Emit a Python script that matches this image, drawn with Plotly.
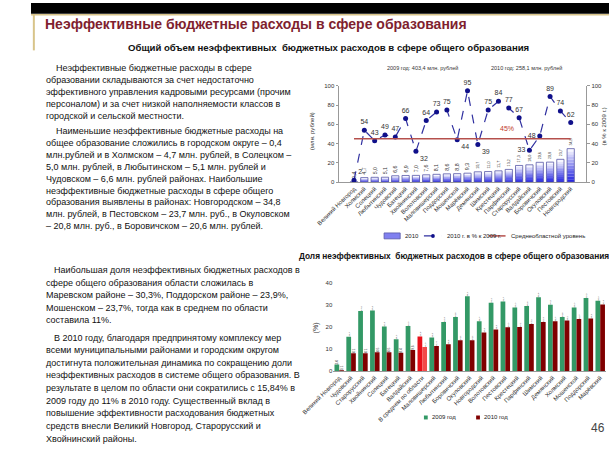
import plotly.graph_objects as go

W, H = 609, 457
def px(x): return x / W
def py(y): return 1 - y / H

FONT = "Liberation Sans, Arial, sans-serif"

# ---------------- data: top chart ----------------
top_cats = ["Великий Новгород", "Холмский", "Солецкий", "Любытинский", "Чудовский",
            "Батецкий", "Хвойнинский", "Волотовский", "Маловишерский", "Поддорский",
            "Мошенской", "Марёвский", "Демянский", "Шимский", "Крестецкий",
            "Парфинский", "Старорусский", "Валдайский", "Боровичский", "Окуловский",
            "Пестовский", "Новгородский"]
top_2010 = [0.4, 4.7, 5.0, 5.1, 6.6, 6.9, 7.0, 7.6, 8.1, 8.6, 8.8, 9.3, 10.7, 11.0,
            11.7, 13.2, 17.3, 18.0, 20.6, 20.8, 23.7, 34.8]
top_pct = [2, 54, 43, 49, 47, 66, 32, 64, 73, 75, 44, 95, 39, 75, 84, 77, 67, 33,
           48, 89, 74, 62]
avg_level = 45
top_ticks = [0, 20, 40, 60, 80, 100]

# ---------------- data: bottom chart ----------------
bot_cats = ["Великий Новгород", "Чудовский", "Старорусский", "Хвойнинский", "Солецкий",
            "Батецкий", "Валдайский", "В среднем по области", "Маловишерский",
            "Любытинский", "Боровичский", "Окуловский", "Новгородский", "Волотовский",
            "Пестовский", "Крестецкий", "Парфинский", "Шимский", "Демянский",
            "Холмский", "Мошенской", "Поддорский", "Марёвский"]
bot_2009 = [3.0, 15.7, 27.4, 27.6, 20.3, 14.5, 20.5, 15.8, 15.3, 22.4, 24.6, 34.1,
            22.7, 31.1, 31.7, 29.0, 29.6, 33.6, 30.2, 24.6, 29.0, 33.3, 32.0]
bot_2010 = [0.1, 8.1, 8.1, 8.6, 8.6, 8.4, 9.6, 11.0, 11.4, 12.2, 14.1, 14.1, 17.6,
            18.9, 20.0, 20.1, 21.5, 22.4, 22.7, 23.0, 23.7, 23.9, 30.3]
bot_ticks = [0, 10, 20, 30, 40]
avg_name = "В среднем по области"

def fmt(v):
    return f"{v:.1f}".replace(".", ",")

fig = go.Figure()

# ---- top chart: gradient bars (stacked slices of each value) ----
N = 12
c0 = (40, 40, 225)
c1 = (246, 246, 255)
for k in range(N):
    t = k / (N - 1)
    col = "rgb(%d,%d,%d)" % tuple(int(c0[i] + (c1[i] - c0[i]) * t) for i in range(3))
    fig.add_trace(go.Bar(
        x=top_cats, y=[v / N for v in top_2010], base=[v * k / N for v in top_2010],
        marker=dict(color=col, line=dict(width=0)), width=0.7,
        showlegend=False, hoverinfo="skip", xaxis="x", yaxis="y"))
fig.add_trace(go.Bar(
    x=top_cats, y=top_2010, width=0.7,
    marker=dict(color="rgba(0,0,0,0)", line=dict(color="#5A5AA8", width=0.8)),
    text=[fmt(v) for v in top_2010], textposition="outside", textangle=-90,
    textfont=dict(size=5.5, color="#333333", family=FONT), cliponaxis=False,
    showlegend=False, xaxis="x", yaxis="y"))

pos = ["top center"] * len(top_pct)
for i, p in {0: "top right", 6: "bottom right", 10: "bottom right", 12: "bottom right",
             17: "middle left", 18: "middle left"}.items():
    pos[i] = p
fig.add_trace(go.Scatter(
    x=top_cats, y=top_pct, mode="lines+markers+text", showlegend=False,
    line=dict(color="#3030A0", width=1.2, dash="dash"),
    marker=dict(color="#10108A", size=5),
    text=[str(v) for v in top_pct], textposition=pos,
    textfont=dict(size=7, color="#333333", family=FONT), cliponaxis=False,
    xaxis="x", yaxis="y2"))
fig.add_trace(go.Scatter(
    x=top_cats, y=[avg_level] * len(top_cats), mode="lines", showlegend=False,
    line=dict(color="#B5504C", width=1.5), xaxis="x", yaxis="y2"))

# ---- bottom chart ----
green = "#339966"
dred = "#800000"
c09 = ["#E8101A" if c == avg_name else green for c in bot_cats]
c10 = ["#F24A4A" if c == avg_name else dred for c in bot_cats]
fig.add_trace(go.Bar(
    x=bot_cats, y=bot_2009, width=0.4, offset=-0.4, showlegend=False,
    marker=dict(color=c09, line=dict(width=0)),
    text=[fmt(v) for v in bot_2009], textposition="outside", textangle=-90,
    textfont=dict(size=5, color="#333333", family=FONT), cliponaxis=False,
    xaxis="x3", yaxis="y3"))
fig.add_trace(go.Bar(
    x=bot_cats, y=bot_2010, width=0.4, offset=0.0, showlegend=False,
    marker=dict(color=c10, line=dict(width=0)),
    text=[fmt(v) for v in bot_2010], textposition="outside", textangle=-90,
    textfont=dict(size=5, color="#333333", family=FONT), cliponaxis=False,
    xaxis="x3", yaxis="y3"))

# ---------------- layout ----------------
tickf = dict(size=6, color="#333333", family=FONT)
fig.update_layout(
    width=W, height=H, margin=dict(l=0, r=0, t=0, b=0),
    paper_bgcolor="white", plot_bgcolor="white",
    font=dict(family=FONT, color="#111111"),
    barmode="overlay", showlegend=False,
    xaxis=dict(domain=[px(324), px(585)], anchor="y", type="category",
               tickangle=-45, tickfont=tickf, showline=True, linecolor="#999999",
               linewidth=1, ticks="", showgrid=False),
    yaxis=dict(domain=[py(181.5), py(84)], range=[0, 100], tickvals=top_ticks,
               tickfont=tickf, showline=True, linecolor="#999999", linewidth=1,
               ticks="outside", ticklen=2, tickcolor="#999999", showgrid=False,
               zeroline=False),
    yaxis2=dict(overlaying="y", side="right", anchor="x", range=[0, 100],
                tickvals=top_ticks, tickfont=tickf, showline=True,
                linecolor="#999999", linewidth=1, ticks="outside", ticklen=3,
                tickcolor="#999999", showgrid=False, zeroline=False),
    xaxis3=dict(domain=[px(318.5), px(606)], anchor="y3", type="category",
                tickangle=-45, tickfont=tickf, showline=True, linecolor="#999999",
                linewidth=1, ticks="", showgrid=False),
    yaxis3=dict(domain=[py(373), py(284)], anchor="x3", range=[0, 40],
                tickvals=bot_ticks, tickfont=tickf, showline=False, ticks="",
                showgrid=False, zeroline=False),
)

def prect(x0, y0, x1, y1, color, lc=None):
    return dict(type="rect", xref="paper", yref="paper", x0=px(x0), x1=px(x1),
                y0=py(y1), y1=py(y0), fillcolor=color,
                line=dict(width=0.8 if lc else 0, color=lc or color))

def pline(x0, y0, x1, y1, color, w, dash="solid"):
    return dict(type="line", xref="paper", yref="paper", x0=px(x0), x1=px(x1),
                y0=py(y0), y1=py(y1), line=dict(color=color, width=w, dash=dash))

shapes = [
    prect(0, 0, W, 11, "black"),
    pline(0, 12, W, 12, "#D8C48A", 1.5),
    pline(3, 12, 3, 48, "#D8C48A", 2),
    # top legend
    prect(372, 233, 389, 239, "#8080F0", "#5A5AA8"),
    pline(414, 236, 433, 236, "#3030A0", 1.2, "dash"),
    dict(type="circle", xref="paper", yref="paper", x0=px(421.5), x1=px(425.5),
         y0=py(238), y1=py(234), fillcolor="#10108A", line=dict(width=0)),
    pline(482, 236, 500, 236, "#B5504C", 1.5),
    # bottom legend
    prect(414, 418, 418, 422, green),
    prect(469, 418, 473, 422, dred),
]
fig.update_layout(shapes=shapes)

ann = []
def text(x, y, s, size, color="#111111", bold=False, xanchor="left", angle=0):
    ann.append(dict(x=px(x), y=py(y), xref="paper", yref="paper",
                    text=("<b>%s</b>" % s) if bold else s,
                    showarrow=False, xanchor=xanchor, yanchor="middle", textangle=angle,
                    font=dict(size=size, color=color, family=FONT)))

text(13, 21, "Неэффективные бюджетные расходы в сфере образования", 14, "#7F1F2F", True)
text(313, 45, "Общий объем неэффективных  бюджетных расходов в сфере общего образования", 9.6, "#111111", True, "center")
text(446, 256, "Доля неэффективных  бюджетных расходов в сфере общего образования", 8.3, "#111111", True, "center")

top_p1 = ["Неэффективные бюджетные расходы в сфере",
          "образовании складываются за счет недостаточно",
          "эффективного управления кадровыми ресурсами (прочим",
          "персоналом) и за счет низкой наполняемости классов в",
          "городской и сельской местности."]
top_p2 = ["Наименьшие неэффективные бюджетные расходы на",
          "общее образование сложились в городском округе – 0,4",
          "млн.рублей и в Холмском – 4,7 млн. рублей, в Солецком –",
          "5,0 млн. рублей, в Любытинском – 5,1 млн. рублей и",
          "Чудовском – 6,6 млн. рублей районах. Наибольшие",
          "неэффективные бюджетные расходы в сфере общего",
          "образования выявлены в районах: Новгородском – 34,8",
          "млн. рублей, в Пестовском – 23,7 млн. руб., в Окуловском",
          "– 20,8 млн. руб., в Боровичском – 20,6 млн. рублей."]
bot_p1 = ["Наибольшая доля неэффективных бюджетных расходов в",
          "сфере общего образования области сложилась в",
          "Маревском районе – 30,3%, Поддорском районе – 23,9%,",
          "Мошенском – 23,7%, тогда как в среднем по области",
          "составила 11%."]
bot_p2 = ["В 2010 году, благодаря предпринятому комплексу мер",
          "всеми муниципальными районами и городским округом",
          "достигнута положительная динамика по сокращению доли",
          "неэффективных расходов в системе общего образования. В",
          "результате в целом по области они сократились с 15,84% в",
          "2009 году до 11% в 2010 году. Существенный вклад в",
          "повышение эффективности расходования бюджетных",
          "средств внесли Великий Новгород, Старорусский и",
          "Хвойнинский районы."]

BS = 9
def para(lines, y0, step, indent):
    for i, s in enumerate(lines):
        text(14 + (indent if i == 0 else 0), y0 + i * step, s, BS, "#111111")

para(top_p1, 66, 12, 10)
para(top_p2, 130, 12, 10)
para(bot_p1, 271, 12.6, 8)
para(bot_p2, 339, 12.8, 8)

# chart annotations
text(412, 66, "2009 год: 403,4 млн. рублей", 5.5, "#333333", False, "center")
text(522, 66, "2010 год: 258,1 млн. рублей", 5.5, "#333333", False, "center")
text(502, 127, "45%", 7, "#C0392B", False, "center")
text(296, 130, "(млн. рублей)", 6, "#333333", False, "center", -90)
text(604, 125, "(в % к 2009 г.)", 6, "#333333", False, "center", -90)
text(300, 329, "(%)", 7, "#333333", False, "center", -90)
text(597, 431, "46", 12, "#444444", False, "center")
# legends
text(392, 236, "2010", 6, "#222222")
text(436, 236, "2010 г. в % к 2009 г.", 6, "#222222")
text(504, 236, "Среднеобластной уровень", 6, "#222222")
text(420, 420, "2009 год", 6, "#222222")
text(475, 420, "2010 год", 6, "#222222")

fig.update_layout(annotations=ann)
fig.write_html("out.html")
